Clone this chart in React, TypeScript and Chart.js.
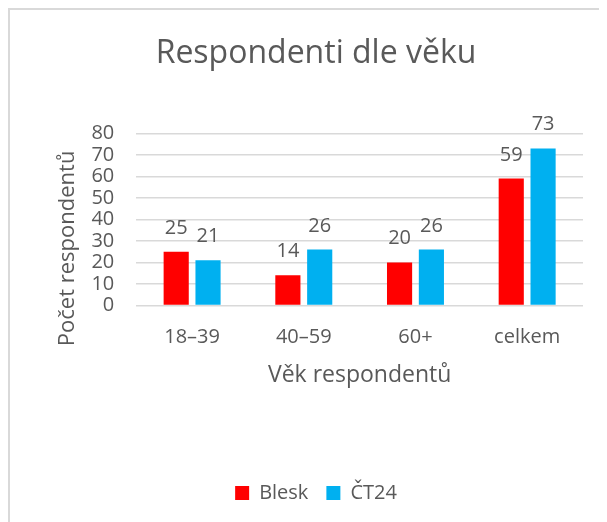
import React, { useEffect, useRef } from "react";
import { Chart, registerables } from "chart.js";

Chart.register(...registerables);

const categories = ["18–39", "40–59", "60+", "celkem"];
const bleskValues = [25, 14, 20, 59];
const ct24Values = [21, 26, 26, 73];
const seriesNames = ["Blesk", "ČT24"];
const yMin = 0;
const yMax = 80;
const yStep = 10;

const FONT = "'Open Sans', 'Noto Sans', sans-serif";
const TEXT = "#595959";

const dataLabels = {
  id: "dataLabels",
  afterDatasetsDraw(chart: any) {
    const ctx = chart.ctx;
    ctx.save();
    ctx.font = `20px ${FONT}`;
    ctx.fillStyle = TEXT;
    ctx.textAlign = "center";
    ctx.textBaseline = "alphabetic";
    chart.data.datasets.forEach((ds: any, i: number) => {
      const meta = chart.getDatasetMeta(i);
      meta.data.forEach((el: any, j: number) => {
        ctx.fillText(String(ds.data[j]), el.x, el.y - 18);
      });
    });
    ctx.restore();
  },
};

const yTitlePlugin = {
  id: "yTitle",
  afterDraw(chart: any) {
    const ctx = chart.ctx;
    const area = chart.chartArea;
    ctx.save();
    ctx.font = `22px ${FONT}`;
    ctx.fillStyle = TEXT;
    ctx.textAlign = "center";
    ctx.textBaseline = "middle";
    ctx.translate(area.left - 69, (area.top + area.bottom) / 2 + 29);
    ctx.rotate(-Math.PI / 2);
    ctx.fillText("Počet respondentů", 0, 0);
    ctx.restore();
  },
};

export default function App() {
  const ref = useRef<HTMLCanvasElement>(null);
  useEffect(() => {
    if (!ref.current) return;
    const chart = new Chart(ref.current, {
      type: "bar",
      data: {
        labels: categories,
        datasets: [
          {
            label: seriesNames[0],
            data: bleskValues,
            backgroundColor: "#FF0000",
            categoryPercentage: 0.57,
            barPercentage: 0.79,
          },
          {
            label: seriesNames[1],
            data: ct24Values,
            backgroundColor: "#00B0F0",
            categoryPercentage: 0.57,
            barPercentage: 0.79,
          },
        ],
      },
      options: {
        responsive: false,
        animation: false,
        layout: { padding: { left: 39, right: 24, top: 0, bottom: 9 } },
        plugins: {
          title: {
            display: true,
            text: "Respondenti dle věku",
            color: TEXT,
            font: { family: FONT, size: 32, weight: "normal" },
            padding: { top: 25, bottom: 60 },
          },
          legend: {
            position: "bottom",
            labels: {
              color: TEXT,
              font: { family: FONT, size: 20 },
              boxWidth: 14,
              boxHeight: 14,
              padding: 18,
            },
          },
          tooltip: { enabled: false },
        },
        scales: {
          x: {
            grid: { display: false },
            border: { display: false },
            ticks: {
              color: TEXT,
              font: { family: FONT, size: 20 },
              padding: 12,
            },
            title: {
              display: true,
              text: "Věk respondentů",
              color: TEXT,
              font: { family: FONT, size: 23 },
              padding: { top: 0, bottom: 76 },
            },
          },
          y: {
            min: yMin,
            max: yMax,
            grid: { color: "#d9d9d9", lineWidth: 1.5, drawTicks: false },
            border: { display: false },
            ticks: {
              stepSize: yStep,
              autoSkip: false,
              color: TEXT,
              font: { family: FONT, size: 20 },
              padding: 22,
            },
            title: {
              display: true,
              text: "Počet respondentů",
              color: "rgba(0,0,0,0)",
              font: { family: FONT, size: 22 },
              padding: { top: 0, bottom: -6 },
            },
          },
        },
      },
      plugins: [dataLabels, yTitlePlugin],
    });
    return () => chart.destroy();
  }, []);

  return (
    <div
      style={{
        width: 597,
        height: 512,
        borderTop: "2px solid #d9d9d9",
        borderLeft: "2px solid #d9d9d9",
        background: "#fff",
      }}
    >
      <canvas ref={ref} width={597} height={512} style={{ display: "block" }} />
    </div>
  );
}
